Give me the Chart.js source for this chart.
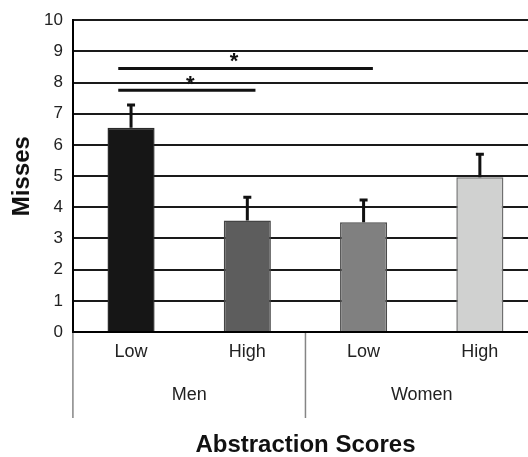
<!DOCTYPE html>
<html>
<head>
<meta charset="utf-8">
<script src="https://cdn.jsdelivr.net/npm/chart.js@4.4.1/dist/chart.umd.min.js"></script>
<style>
  body { margin: 0; background: #fff; overflow: hidden; }
  canvas { display: block; }
</style>
</head>
<body>
<canvas id="missesChart" width="540" height="457"></canvas>
<script>
// data
const categories = ['Low', 'High', 'Low', 'High'];
const groups = ['Men', 'Women'];
const misses = [6.55, 3.58, 3.52, 4.96];
const errorTop = [7.28, 4.32, 4.23, 5.70];

// significance brackets, x in category index units
const sigUpper = [{ x: -0.11, y: 8.45 }, { x: 2.08, y: 8.45 }];
const sigLower = [{ x: -0.11, y: 7.75 }, { x: 1.07, y: 7.75 }];
const starX = [0.885, 0.51];
const starY = [8.88, 8.14];

const barColors = ['#161616', '#5d5d5d', '#808080', '#d0d1d0'];
const barBorders = ['#2a2a2a', '#444444', '#4a4a4a', '#6f6f6f'];

const FONT = 'Liberation Sans, Arial, sans-serif';

// error bars, stars and the group separators under the axis
const extras = {
    id: 'extras',
    afterDatasetsDraw(chart) {
        const ctx = chart.ctx;
        const y = chart.scales.y;
        const xl = chart.scales.xl;
        const bars = chart.getDatasetMeta(0).data;

        ctx.save();
        ctx.strokeStyle = '#111';
        ctx.lineWidth = 3;
        bars.forEach((bar, i) => {
            const top = y.getPixelForValue(errorTop[i]);
            ctx.beginPath();
            ctx.moveTo(bar.x, bar.y);
            ctx.lineTo(bar.x, top);
            ctx.moveTo(bar.x - 4, top);
            ctx.lineTo(bar.x + 4, top);
            ctx.stroke();
        });

        ctx.fillStyle = '#111';
        ctx.font = 'bold 22px ' + FONT;
        ctx.textAlign = 'center';
        ctx.textBaseline = 'alphabetic';
        for (let i = 0; i < starX.length; i++) {
            ctx.fillText('*', xl.getPixelForValue(starX[i]), y.getPixelForValue(starY[i]) + 12.5);
        }
        ctx.restore();
    },
    afterDraw(chart) {
        const ctx = chart.ctx;
        const area = chart.chartArea;
        const x = chart.scales.x;
        const mid = (x.getPixelForValue(1) + x.getPixelForValue(2)) / 2;
        ctx.save();
        ctx.strokeStyle = '#858585';
        ctx.lineWidth = 1.5;
        [area.left, mid, area.right].forEach(px => {
            ctx.beginPath();
            ctx.moveTo(px, area.bottom + 1);
            ctx.lineTo(px, area.bottom + 86);
            ctx.stroke();
        });
        ctx.restore();
    }
};

const ctx = document.getElementById('missesChart').getContext('2d');
new Chart(ctx, {
    type: 'bar',
    data: {
        labels: categories,
        datasets: [{
            data: misses,
            backgroundColor: barColors,
            borderColor: barBorders,
            borderWidth: 1.5,
            grouped: false,
            categoryPercentage: 1,
            barPercentage: 0.405,
            xAxisID: 'x'
        }, {
            type: 'line',
            data: sigUpper,
            xAxisID: 'xl',
            borderColor: '#111',
            borderWidth: 3,
            pointRadius: 0,
            fill: false
        }, {
            type: 'line',
            data: sigLower,
            xAxisID: 'xl',
            borderColor: '#111',
            borderWidth: 3,
            pointRadius: 0,
            fill: false
        }]
    },
    options: {
        responsive: false,
        animation: false,
        layout: { padding: { left: 10, right: 2, top: 13, bottom: 0 } },
        plugins: {
            legend: { display: false },
            tooltip: { enabled: false }
        },
        scales: {
            x: {
                type: 'category',
                weight: 0,
                offset: true,
                grid: { display: false, drawTicks: false },
                border: { display: true, color: '#000', width: 2 },
                ticks: { color: '#222', padding: 9, font: { family: FONT, size: 18 } }
            },
            x2: {
                type: 'category',
                position: 'bottom',
                labels: groups,
                weight: 1,
                offset: true,
                grid: { display: false, drawTicks: false },
                border: { display: false },
                ticks: { color: '#222', padding: 12.6, font: { family: FONT, size: 18 } },
                title: {
                    display: true,
                    text: 'Abstraction Scores',
                    color: '#111',
                    font: { family: FONT, size: 24, weight: 'bold', lineHeight: 1 },
                    padding: { top: 14.6, bottom: 0 }
                }
            },
            xl: {
                type: 'linear',
                display: false,
                offset: false,
                grace: 0,
                min: -0.5,
                max: 3.5
            },
            y: {
                min: 0,
                max: 10,
                grid: { color: '#1a1a1a', lineWidth: 2, drawTicks: false },
                border: { color: '#000', width: 2 },
                ticks: { stepSize: 1, color: '#222', padding: 10, font: { family: FONT, size: 17 } },
                title: {
                    display: true,
                    text: 'Misses',
                    color: '#111',
                    font: { family: FONT, size: 24, weight: 'bold', lineHeight: 1 },
                    padding: { top: 0, bottom: 0 }
                }
            }
        }
    },
    plugins: [extras]
});
</script>
</body>
</html>
